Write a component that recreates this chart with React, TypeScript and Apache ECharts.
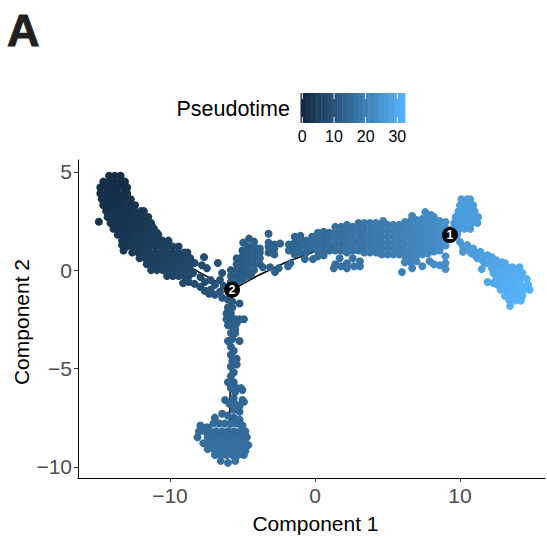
import React, { useEffect, useRef } from "react";
import * as echarts from "echarts";

const FONT = "Liberation Sans";
const X_TICKS = [-10, 0, 10];
const Y_TICKS = [-10, -5, 0, 5];
const LEGEND_TICKS = [0, 10, 20, 30];
const COLOR_LOW = "#132B43";
const COLOR_HIGH = "#56B1F7";
const T_MAX = 33;

const LEFT_BRANCH: number[][] = [
  [-14.2,4.8,1],[-13.8,4.8,1],[-13.4,4.8,1],
  [-14.6,4.5,1],[-14.2,4.5,1],[-13.8,4.5,1],[-13.4,4.5,1],[-13.1,4.5,1],
  [-14.8,4.2,1],[-14.4,4.2,1],[-14,4.2,1],[-13.6,4.2,1],[-13.2,4.2,1],[-12.95,4.2,1],
  [-14.8,3.9,1],[-14.4,3.9,1],[-14,3.9,1],[-13.6,3.9,1],[-13.2,3.9,1],[-12.95,3.9,1],
  [-14.7,3.6,1],[-14.3,3.6,1],[-13.9,3.6,1],[-13.5,3.6,1],[-13.1,3.6,1.5],[-12.7,3.6,2],
  [-14.6,3.3,1],[-14.2,3.3,1],[-13.8,3.3,1.5],[-13.4,3.3,1.5],[-13,3.3,2],[-12.6,3.3,2],[-12.4,3.3,2.5],
  [-14.4,3,1.5],[-14,3,1.5],[-13.6,3,2],[-13.2,3,2],[-12.8,3,2],[-12.4,3,2.5],[-12,3,3],[-11.8,3,3],
  [-14.3,2.7,2],[-13.9,2.7,2],[-13.5,2.7,2],[-13.1,2.7,2],[-12.7,2.7,2.5],[-12.3,2.7,3],[-11.9,2.7,3],[-11.5,2.7,3.5],
  [-14.1,2.4,2],[-13.7,2.4,2],[-13.3,2.4,2.5],[-12.9,2.4,2.5],[-12.5,2.4,3],[-12.1,2.4,3],[-11.7,2.4,3.5],[-11.3,2.4,4],
  [-13.9,2.1,2.5],[-13.5,2.1,2.5],[-13.1,2.1,2.5],[-12.7,2.1,3],[-12.3,2.1,3],[-11.9,2.1,3.5],[-11.5,2.1,4],[-11.1,2.1,4],
  [-13.6,1.8,3],[-13.2,1.8,3],[-12.8,1.8,3],[-12.4,1.8,3.5],[-12,1.8,3.5],[-11.6,1.8,4],[-11.2,1.8,4],[-10.8,1.8,4.5],
  [-13.3,1.5,3],[-12.9,1.5,3],[-12.5,1.5,3.5],[-12.1,1.5,3.5],[-11.7,1.5,4],[-11.3,1.5,4],[-10.9,1.5,4.5],[-10.5,1.5,5],[-10.1,1.5,5],
  [-13,1.2,3.5],[-12.6,1.2,3.5],[-12.2,1.2,4],[-11.8,1.2,4],[-11.4,1.2,4.5],[-11,1.2,4.5],[-10.6,1.2,5],[-10.2,1.2,5],[-9.8,1.2,5.5],[-9.4,1.2,5.5],
  [-12.6,0.9,4],[-12.2,0.9,4],[-11.8,0.9,4.5],[-11.4,0.9,4.5],[-11,0.9,5],[-10.6,0.9,5],[-10.2,0.9,5.5],[-9.8,0.9,5.5],[-9.4,0.9,6],[-9,0.9,6],[-8.8,0.9,6.5],
  [-12.1,0.6,4.5],[-11.7,0.6,4.5],[-11.3,0.6,5],[-10.9,0.6,5],[-10.5,0.6,5.5],[-10.1,0.6,5.5],[-9.7,0.6,6],[-9.3,0.6,6],[-8.9,0.6,6.5],[-8.6,0.6,6.5],
  [-11.6,0.3,5],[-11.2,0.3,5],[-10.8,0.3,5.5],[-10.4,0.3,5.5],[-10,0.3,6],[-9.6,0.3,6],[-9.2,0.3,6.5],[-8.8,0.3,6.5],[-8.6,0.3,7],
  [-11.3,0,5.5],[-10.9,0,5.5],[-10.5,0,6],[-10.1,0,6],[-9.7,0,6.5],[-9.3,0,6.5],[-8.9,0,7],[-8.6,0,7],
  [-10.2,-0.3,6.5],[-9.8,-0.3,6.5],[-9.4,-0.3,7],[-9,-0.3,7],[-8.7,-0.3,7.5],
  [-14.9,2.46,2],[-13.3,1.27,3],[-13.2,1,3],[-11.2,2.2,4],[-10.9,1.9,4.5],
  [-7.65,0.66,8],[-6.7,0.36,9],[-8.3,0.36,7.5],[-7.45,0.1,8.5],[-7.8,0.25,8],[-6.4,-0.15,10],
  [-9.1,-0.66,7.5],[-8.4,-0.15,8],[-7.9,-0.35,8.5],[-7.9,-0.86,9],[-7.6,-0.6,9],[-7.2,-0.5,9.5],[-7.2,-1,10],[-6.9,-0.75,10],[-6.55,-0.5,10.5],[-6.55,-1.1,10.5],[-6.3,-0.8,11],
  [-8.7,-0.6,8],[-8.3,-0.7,8.5],[-7.6,-1.05,9.5],[-7.3,-1.2,10],[-6.9,-1.25,10.5],[-6.4,-1.4,11],
];

const DOWN_BRANCH: number[][] = [
  [-6,-1.5,11.5],[-5.7,-1.6,11.5],[-5.2,-1.7,12],[-6,-1.9,12],[-5.7,-1.9,12],[-6.1,-2.2,12],[-5.8,-2.2,12],
  [-6.1,-2.5,12.5],[-5.8,-2.5,12.5],[-5.5,-2.5,12.5],[-5.2,-2.5,12.5],[-4.9,-2.5,12.5],[-5.4,-2.7,12.5],
  [-6,-2.8,13],[-5.7,-2.8,13],[-5.5,-3,13],[-5.8,-3.2,13],[-5.5,-3.2,13],[-5.7,-3.5,13],[-6,-3.6,13],[-5.2,-3.6,13],[-5.8,-3.9,13.5],[-5.6,-4.1,13.5],
  [-5.8,-4.3,13.5],[-5.7,-4.6,13.5],[-5.4,-4.5,13.5],[-5.8,-4.9,14],[-5.4,-4.8,14],[-5.6,-5.2,14],
  [-5.8,-5.4,14],[-5.6,-5.7,14],[-6,-5.7,14],[-5.8,-6,14.5],[-5.4,-6,14.5],[-5.1,-6,14.5],[-5,-6.1,14.5],[-5.5,-6.2,14.5],
  [-5.6,-6.5,14.5],[-6.2,-6.6,14.5],[-5.9,-6.8,15],[-5.5,-6.8,15],[-5,-6.6,15],[-4.9,-6.7,15],[-5.2,-6.9,15],
  [-5.6,-7.1,15],[-5.2,-7.2,15],[-6.4,-7.3,15],[-6.9,-7.5,15],[-6,-7.4,15],[-5.6,-7.5,15],[-5.2,-7.6,15.5],
  [-7.4,-8,16],[-7.9,-7.9,16],[-7.5,-8,16],[-7,-7.8,16],[-6.6,-7.8,16],[-6.2,-7.8,16],[-5.8,-7.8,16],[-5.4,-7.8,16],[-5,-7.9,16],
  [-8,-8.2,16],[-7.6,-8.2,16],[-7.2,-8.2,16],[-6.8,-8.2,16],[-6.4,-8.2,16],[-6,-8.2,16],[-5.6,-8.2,16],[-5.2,-8.2,16],[-4.8,-8.2,16],
  [-8.1,-8.5,16],[-7.4,-8.5,16],[-7,-8.5,16],[-6.6,-8.5,16.5],[-6.2,-8.5,16.5],[-5.8,-8.5,16.5],[-5.4,-8.5,16.5],[-5,-8.5,16.5],[-4.7,-8.5,16.5],
  [-7.7,-8.8,16.5],[-7.3,-8.8,16.5],[-6.9,-8.8,16.5],[-6.5,-8.8,16.5],[-6.1,-8.8,16.5],[-5.7,-8.8,16.5],[-5.3,-8.8,16.5],[-4.9,-8.8,16.5],[-4.6,-8.9,16.5],
  [-7.4,-9.1,17],[-7,-9.1,17],[-6.6,-9.1,17],[-6.2,-9.1,17],[-5.8,-9.1,17],[-5.4,-9.1,17],[-5,-9.1,17],[-4.8,-9.2,17],
  [-6.9,-9.4,17],[-6.5,-9.4,17],[-6.1,-9.4,17],[-5.7,-9.4,17],[-5.3,-9.4,17],[-4.9,-9.4,17],
  [-6.5,-9.7,17],[-6,-9.8,17],[-5.5,-9.7,17],
];

const MID_BRANCH: number[][] = [
  [-5.8,-0.6,12],[-5.8,-0.3,12],[-5.8,0,12],
  [-5.4,-0.6,12],[-5.4,-0.3,12],[-5.4,0,12],[-5.4,0.3,12],[-5.4,0.6,12],
  [-5,-0.5,12],[-5,-0.2,12],[-5,0.1,12],[-5,0.4,12],[-5,0.7,12],[-5,1,12],
  [-4.6,-0.3,12.5],[-4.6,0,12.5],[-4.6,0.3,12.5],[-4.6,0.6,12.5],[-4.6,0.9,12.5],[-4.6,1.2,12.5],
  [-4.2,0,13],[-4.2,0.3,13],[-4.2,0.6,13],[-4.2,0.9,13],[-4.2,1.2,13],[-4.2,1.45,13],
  [-3.8,0.3,13],[-3.8,0.6,13],[-3.8,0.9,13],[-3.8,1.1,13],
  [-4.95,1.4,12.5],[-4.55,1.6,12.5],[-3.2,1.85,13.5],[-4.4,-0.2,12.5],
  [-3.2,0.9,13.5],[-3.2,1.2,13.5],[-3.2,1.4,13.5],[-2.8,0.8,13.5],[-2.8,1.1,13.5],[-2.8,1.3,13.5],[-2.4,1.35,14],
  [-3.6,0.15,13],[-3.1,0.15,13.5],[-2.76,-0.1,13.5],[-2.5,0.1,14],[-1.86,0.2,14],[-1.7,0.35,14.5],[-0.7,0.56,15],[-0.14,0.56,15.5],
  [-1.8,1,14.5],[-1.8,1.3,14.5],[-1.4,0.8,14.5],[-1.4,1.1,14.5],[-1.4,1.4,14.5],[-1.4,1.7,14.5],
  [-1,0.9,15],[-1,1.2,15],[-1,1.5,15],[-1,1.75,15],[-0.6,0.9,15],[-0.6,1.2,15],[-0.6,1.5,15],
  [-0.2,1.1,15.5],[-0.2,1.4,15.5],[-0.2,1.7,15.5],
  [0.2,0.7,16],[0.2,1,16],[0.2,1.3,16],[0.2,1.6,16],[0.2,1.9,16],
  [0.6,0.75,16],[0.6,1.05,16],[0.6,1.35,16],[0.6,1.65,16],[0.6,1.95,16],
  [1,1,16.5],[1,1.3,16.5],[1,1.6,16.5],[1,1.9,16.5],
  [1.4,1,17],[1.4,1.3,17],[1.4,1.6,17],[1.4,1.9,17],[1.4,2.2,17],
  [1.8,1,17],[1.8,1.3,17],[1.8,1.6,17],[1.8,1.9,17],[1.8,2.2,17],
  [2.2,0.9,17.5],[2.2,1.2,17.5],[2.2,1.5,17.5],[2.2,1.8,17.5],[2.2,2.1,17.5],[2.2,2.3,17.5],
  [2.6,1,18],[2.6,1.3,18],[2.6,1.6,18],[2.6,1.9,18],[2.6,2.2,18],
  [3,1,18],[3,1.3,18],[3,1.6,18],[3,1.9,18],[3,2.2,18],[3,2.4,18],
  [3.4,0.9,18.5],[3.4,1.2,18.5],[3.4,1.5,18.5],[3.4,1.8,18.5],[3.4,2.1,18.5],[3.4,2.4,18.5],
  [3.8,0.9,19],[3.8,1.2,19],[3.8,1.5,19],[3.8,1.8,19],[3.8,2.1,19],[3.8,2.4,19],
  [4.2,0.9,19.5],[4.2,1.2,19.5],[4.2,1.5,19.5],[4.2,1.8,19.5],[4.2,2.1,19.5],[4.2,2.4,19.5],
  [4.6,0.8,19.5],[4.6,1.1,19.5],[4.6,1.4,19.5],[4.6,1.7,19.5],[4.6,2,19.5],[4.6,2.3,19.5],[4.7,2.5,20],
  [5,0.8,20],[5,1.1,20],[5,1.4,20],[5,1.7,20],[5,2,20],[5,2.3,20],
  [1.4,0.3,17],[1.3,0.1,17],[1.7,0.6,17],[1.8,0.2,17],[2.2,0.35,17.5],[2.2,0.1,17.5],[2.6,0.6,18],[2.7,0.2,18],[3.1,0.45,18],[3.1,0.2,18],
  [5.4,0.8,20.5],[5.4,1.1,20.5],[5.4,1.4,20.5],[5.4,1.7,20.5],[5.4,2,20.5],[5.4,2.3,20.5],
  [5.8,0.8,21],[5.8,1.1,21],[5.8,1.4,21],[5.8,1.7,21],[5.8,2,21],[5.8,2.3,21],
  [6.2,0.4,21.5],[6.2,0.7,21.5],[6.2,1,21.5],[6.2,1.3,21.5],[6.2,1.6,21.5],[6.2,1.9,21.5],[6.2,2.2,21.5],[6.2,2.45,21.5],
  [6,-0.1,21],[6.7,0.1,22],[6.6,0.4,22],[6.6,0.7,22],[6.6,1,22],[6.6,1.3,22],[6.6,1.6,22],[6.6,1.9,22],[6.6,2.2,22],[6.6,2.5,22],[6.7,2.75,22],
  [7,0.45,22.5],[7,0.75,22.5],[7,1.05,22.5],[7,1.35,22.5],[7,1.65,22.5],[7,1.95,22.5],[7,2.25,22.5],[7,2.55,22.5],
  [7.4,0.2,23],[7.4,0.8,23],[7.4,1.1,23],[7.4,1.4,23],[7.4,1.7,23],[7.4,2,23],[7.4,2.3,23],[7.4,2.6,23],[7.6,2.95,23.5],[8,2.8,23.5],
  [7.9,0.45,23.5],[7.8,0.85,23.5],[7.8,1.15,23.5],[7.8,1.45,23.5],[7.8,1.75,23.5],[7.8,2.05,23.5],[7.8,2.35,23.5],[7.8,2.65,23.5],
  [8.2,0.3,24],[8.2,0.95,24],[8.2,1.25,24],[8.2,1.55,24],[8.2,1.85,24],[8.2,2.15,24],[8.2,2.45,24],[8.2,2.7,24],
  [8.6,0.25,24.5],[8.6,1,24.5],[8.6,1.3,24.5],[8.6,1.6,24.5],[8.6,1.9,24.5],[8.6,2.2,24.5],[8.6,2.5,24.5],
  [9,0.7,25],[9,0.35,25],[9,0.05,25],[9,1.25,25],[9,1.55,25],[9,1.85,25],[9,2.15,25],[9,2.45,25],
];

const SPUR_BRANCH: number[][] = [
  [10.1,3.6,28],[10.5,3.6,28],[10.7,3.6,28],[10,3.3,28],[10.4,3.3,28],[10.8,3.3,28],[10.9,3.3,28],
  [9.9,3,28],[10.3,3,28],[10.7,3,28],[11,3,28],[9.7,2.7,27.5],[10.1,2.7,28],[10.5,2.7,28],[10.9,2.7,28],[11.25,2.7,28],
  [9.6,2.4,27],[10,2.4,27.5],[10.4,2.4,28],[10.8,2.4,28],[11.2,2.4,28],[9.5,2.1,27],[9.9,2.1,27],[10.3,2.1,27.5],[10.7,2.1,27.5],
  [9.4,1.8,26],[9.8,1.8,26.5],
];

const END_BRANCH: number[][] = [
  [10,1.43,27],[10.2,1.2,27],[10.2,0.93,27],[10.5,1.27,27.5],[10.6,1,27.5],[10.9,1.1,28],[10.8,0.85,28],[11.1,0.9,28],[11.4,0.93,28.5],[11.2,0.6,28],[11.4,0.6,28.5],[11.7,0.7,28.5],[11.9,0.76,29],[11.8,0.35,29],[12.1,0.4,29.5],[12.2,0.65,29.5],
  [11.1,0.7,28],[11.6,0.45,28.5],[12.4,0.3,30],[12.2,0.1,30],[12.9,0.15,30.5],
  [12.5,0.5,30],[12.6,0.15,30],[12.9,0.4,30.5],[13.1,0.35,30.5],[13.6,0.15,31],[14.1,0.15,31.5],[11.5,0.05,29],[11.9,-0.6,30],[12.3,-0.66,30],[13.45,-1.83,33],[13.3,0.1,31],
  [12.3,-0.15,30.5],[12.7,-0.15,31],[13.1,-0.15,31.5],[13.5,-0.15,31.5],[13.9,-0.15,32],[14.3,-0.15,32],
  [12.5,-0.45,31],[12.9,-0.45,31.5],[13.3,-0.45,32],[13.7,-0.45,32],[14.1,-0.45,32.5],[14.6,-0.45,32.5],
  [12.6,-0.75,31.5],[13,-0.75,32],[13.4,-0.75,32],[13.8,-0.75,32.5],[14.2,-0.75,33],[14.7,-0.75,33],
  [12.8,-1,32],[13.2,-1,32],[13.6,-1,32.5],[14,-1,33],[14.4,-1,33],[14.8,-1,33],
  [13.1,-1.3,32.5],[13.5,-1.3,33],[13.9,-1.3,33],[14.3,-1.3,33],[13.4,-1.55,33],[13.8,-1.55,33],[14.2,-1.55,33],
];

const TRUNK_LEFT = [[-14,4.2],[-12,2.5],[-10,0.8],[-8,-0.1],[-5.72,-1]];
const TRUNK_DOWN = [[-5.72,-1],[-5.8,-4],[-5.9,-8.5]];
const TRUNK_MID = [[-5.72,-1],[-4,-0.3],[-2,0.4],[0,0.95],[3,1.5],[6,1.8],[9.3,1.78]];
const NODES = [
  { value: [9.3, 1.78], name: "1" },
  { value: [-5.72, -1], name: "2" },
];

export default function App() {
  const ref = useRef<HTMLDivElement>(null);
  useEffect(() => {
    const chart = echarts.init(ref.current!, undefined, { renderer: "svg" });
    const barX = 300.5, barW = 104.5, barY = 93, barH = 30, bins = 20;
    const scaleX = (t: number) => 302.3 + (t * 95) / 30;
    const barRects = Array.from({ length: bins }, (_, i) => ({
      type: "rect",
      shape: { x: barX + (i * barW) / bins, y: barY, width: barW / bins + 0.4, height: barH },
      style: { fill: echarts.color.lerp(i / (bins - 1), [COLOR_LOW, COLOR_HIGH]) },
    }));
    const barTicks = LEGEND_TICKS.flatMap((t) => [
      { type: "line", shape: { x1: scaleX(t), x2: scaleX(t), y1: barY, y2: barY + 6 }, style: { stroke: "#fff", lineWidth: 1 } },
      { type: "line", shape: { x1: scaleX(t), x2: scaleX(t), y1: barY + barH - 6, y2: barY + barH }, style: { stroke: "#fff", lineWidth: 1 } },
    ]);
    const barLabels = LEGEND_TICKS.map((t) => ({
      type: "text",
      style: { x: scaleX(t), y: 136, text: String(t), fill: "#000", font: `16px "${FONT}"`, textAlign: "center", textVerticalAlign: "middle" },
    }));
    const trunk = (data: number[][]) => ({
      type: "line", data, showSymbol: false, symbol: "none", z: 1, silent: true,
      lineStyle: { color: "#000", width: 1.6 },
    });
    const points = (data: number[][]) => ({
      type: "scatter", data, symbol: "circle", symbolSize: 8, z: 2,
      itemStyle: { opacity: 1 },
      encode: { x: 0, y: 1 },
    });
    chart.setOption({
      animation: false,
      backgroundColor: "#fff",
      grid: { left: 78, top: 160, right: 2, bottom: 59, containLabel: false, outerBoundsMode: "none" },
      xAxis: {
        type: "value", min: -16.34, max: 15.86, splitLine: { show: false },
        name: "Component 1", nameLocation: "middle", nameGap: 35, nameMoveOverlap: false,
        nameTextStyle: { fontFamily: FONT, fontSize: 21, color: "#000", padding: [0, 0, 0, 8] },
        axisLine: { show: true, onZero: false, lineStyle: { color: "#000", width: 1 } },
        axisTick: { show: true, length: 4, customValues: X_TICKS, lineStyle: { color: "#333" } },
        axisLabel: {
          customValues: X_TICKS, fontFamily: FONT, fontSize: 21, color: "#4D4D4D", margin: 7,
          formatter: (v: number) => String(v).replace("-", "\u2212"),
        },
      },
      yAxis: {
        type: "value", min: -10.57, max: 5.6, splitLine: { show: false },
        name: "Component 2", nameLocation: "middle", nameGap: 46, nameRotate: 90, nameMoveOverlap: false,
        nameTextStyle: { fontFamily: FONT, fontSize: 21, color: "#000", padding: [0, 6, 0, 0] },
        axisLine: { show: true, onZero: false, lineStyle: { color: "#000", width: 1 } },
        axisTick: { show: true, length: 4, customValues: Y_TICKS, lineStyle: { color: "#333" } },
        axisLabel: {
          customValues: Y_TICKS, fontFamily: FONT, fontSize: 21, color: "#4D4D4D", margin: 6,
          formatter: (v: number) => String(v).replace("-", "\u2212"),
        },
      },
      visualMap: {
        show: false, type: "continuous", dimension: 2, min: 0, max: T_MAX,
        seriesIndex: [3, 4, 5, 6, 7],
        inRange: { color: [COLOR_LOW, COLOR_HIGH] },
      },
      series: [
        trunk(TRUNK_LEFT), trunk(TRUNK_DOWN), trunk(TRUNK_MID),
        points(LEFT_BRANCH), points(DOWN_BRANCH), points(MID_BRANCH), points(SPUR_BRANCH), points(END_BRANCH),
        {
          type: "scatter", data: NODES, symbol: "circle", symbolSize: 16, z: 3,
          itemStyle: { color: "#000", opacity: 1 },
          label: { show: true, position: "inside", formatter: "{b}", color: "#fff", fontFamily: FONT, fontSize: 12, fontWeight: "bold" },
        },
      ],
      graphic: [
        { type: "text", style: { x: 7, y: 30, text: "A", fill: "#231F20", stroke: "#231F20", lineWidth: 1, font: `bold 45px "${FONT}"`, textVerticalAlign: "middle" } },
        { type: "text", style: { x: 290, y: 109, text: "Pseudotime", fill: "#000", font: `21.5px "${FONT}"`, textAlign: "right", textVerticalAlign: "middle" } },
        ...barRects, ...barTicks, ...barLabels,
      ],
    });
    return () => chart.dispose();
  }, []);
  return <div ref={ref} style={{ position: "absolute", left: 0, top: 0, width: 547, height: 537 }} />;
}
